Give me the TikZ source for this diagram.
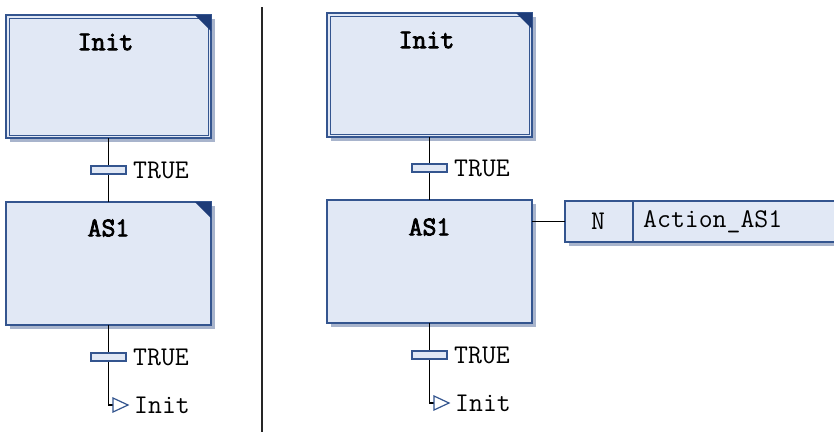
\documentclass[tikz,border=0pt]{standalone}
\usepackage{fontspec}
\setmonofont{Latin Modern Mono}[AutoFakeBold=3]
\usetikzlibrary{shadows}
\definecolor{stepfill}{HTML}{E1E8F5}
\definecolor{stepborder}{HTML}{34558F}
\definecolor{shadowc}{HTML}{A8B4CC}
\definecolor{cornerc}{HTML}{1E3C78}
\tikzset{
  x=1pt, y=-1pt,
  stepbox/.style={draw=stepborder, line width=1.5pt, fill=stepfill, minimum width=205pt,
    inner sep=0pt, outer sep=0pt, anchor=north west,
    drop shadow={shadow xshift=4pt, shadow yshift=-4pt, fill=shadowc, opacity=1}},
  actbox/.style={draw=stepborder, line width=1.5pt, fill=stepfill, minimum height=41pt,
    inner sep=0pt, outer sep=0pt, anchor=north west,
    drop shadow={shadow xshift=4pt, shadow yshift=-4pt, fill=shadowc, opacity=1}},
  steptitle/.style={font=\ttfamily\bfseries\fontsize{27}{27}\selectfont, inner sep=0pt},
  txt/.style={font=\ttfamily\fontsize{27}{27}\selectfont, inner sep=0pt, anchor=west},
  transbar/.style={draw=stepborder, line width=1.2pt, fill=stepfill, minimum width=35pt,
    minimum height=8pt, inner sep=0pt, outer sep=0pt},
  conn/.style={draw=black, line width=1.3pt},
  corner/.style={fill=cornerc},
  innerframe/.style={draw=stepborder, line width=1pt},
  jumpmark/.style={draw=stepborder, fill=white, line width=1.2pt, line join=miter},
  sepline/.style={draw=black!85, line width=2.2pt}
}
\begin{document}
\begin{tikzpicture}
\clip (0,0) rectangle (834,432);
\fill[white] (0,0) rectangle (834,432);

% ---------- separator ----------
\coordinate (sepTop) at (262,7);
\coordinate (sepBot) at (262,432);
\draw[sepline] (sepTop) -- (sepBot);

% ---------- left chart ----------
\node[stepbox, minimum height=123pt] (initL) at (6,15) {};
\draw[innerframe] ([shift={(3pt,-3pt)}]initL.north west) rectangle ([shift={(-3pt,3pt)}]initL.south east);
\fill[corner] ([xshift=-16pt]initL.north east) -- (initL.north east) -- ([yshift=-16pt]initL.north east) -- cycle;
\node[steptitle] (initLt) at ([xshift=-3pt,yshift=-27pt]initL.north) {Init};

\node[stepbox, minimum height=123pt] (asL) at (6,202) {};
\fill[corner] ([xshift=-16pt]asL.north east) -- (asL.north east) -- ([yshift=-16pt]asL.north east) -- cycle;
\node[steptitle] (asLt) at ([yshift=-26pt]asL.north) {AS1};

\coordinate (jL) at (113,405);
\draw[conn] (initL.south) -- (asL.north);
\draw[conn] (asL.south) |- (jL);
\node[transbar] (tL1) at (108.5,170) {};
\node[txt] (tL1t) at ([xshift=7pt]tL1.east) {TRUE};
\node[transbar] (tL2) at (108.5,357) {};
\node[txt] (tL2t) at ([xshift=7pt]tL2.east) {TRUE};
\draw[jumpmark] (jL) ++(0,-7) -- ++(15,7) -- ++(-15,7) -- cycle;
\node[txt] (jLt) at ([xshift=21pt]jL) {Init};

% ---------- right chart ----------
\node[stepbox, minimum height=124pt] (initR) at (327,13) {};
\draw[innerframe] ([shift={(3pt,-3pt)}]initR.north west) rectangle ([shift={(-3pt,3pt)}]initR.south east);
\fill[corner] ([xshift=-16pt]initR.north east) -- (initR.north east) -- ([yshift=-16pt]initR.north east) -- cycle;
\node[steptitle] (initRt) at ([xshift=-3pt,yshift=-27pt]initR.north) {Init};

\node[stepbox, minimum height=123pt] (asR) at (327,200) {};
\node[steptitle] (asRt) at ([yshift=-27pt]asR.north) {AS1};

\node[actbox, minimum width=68pt] (actN) at (565,201) {};
\node[actbox, minimum width=220pt] (actName) at (633,201) {};
\node[txt, anchor=center] (actNt) at ([xshift=-1pt]actN.center) {N};
\node[txt] (actNamet) at ([xshift=10pt]actName.west) {Action\_AS1};
\draw[conn] (actN.west -| asR.east) -- (actN.west);

\coordinate (jR) at (434,403);
\draw[conn] (initR.south) -- (asR.north);
\draw[conn] (asR.south) |- (jR);
\node[transbar] (tR1) at (429.5,168) {};
\node[txt] (tR1t) at ([xshift=7pt]tR1.east) {TRUE};
\node[transbar] (tR2) at (429.5,355) {};
\node[txt] (tR2t) at ([xshift=7pt]tR2.east) {TRUE};
\draw[jumpmark] (jR) ++(0,-7) -- ++(15,7) -- ++(-15,7) -- cycle;
\node[txt] (jRt) at ([xshift=21pt]jR) {Init};
\end{tikzpicture}
\end{document}
